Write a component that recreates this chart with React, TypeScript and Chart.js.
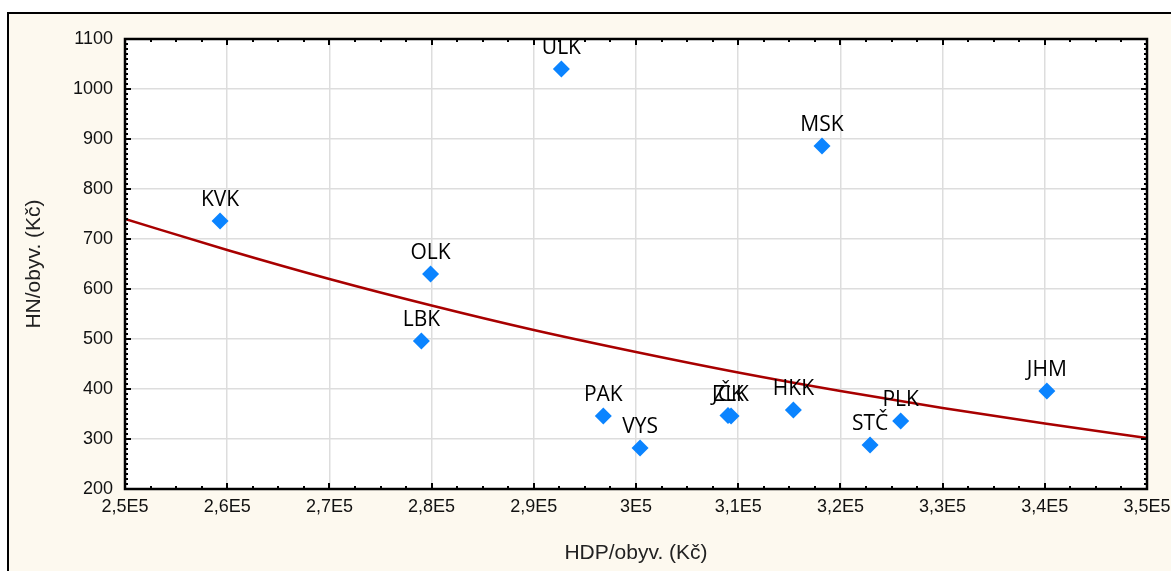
import React, { useEffect, useRef } from "react";
import { Chart, registerables } from "chart.js";

Chart.register(...registerables);

const regions = ["KVK", "ULK", "MSK", "OLK", "LBK", "PAK", "VYS", "JČK", "ZLK", "HKK", "STČ", "PLK", "JHM"];
const hdpPerCapita = [259300, 292700, 318200, 279900, 279000, 296800, 300400, 309000, 309300, 315400, 322900, 325900, 340200];
const hnPerCapita = [736, 1040, 886, 630, 496, 346, 282, 347, 346, 358, 288, 336, 396];

const fitX = [250000, 260000, 270000, 280000, 290000, 300000, 310000, 320000, 330000, 340000, 350000];
const fitY = [740, 678, 620, 567, 518, 474, 433, 396, 362, 331, 302];

const xTickLabels = ["2,5E5", "2,6E5", "2,7E5", "2,8E5", "2,9E5", "3E5", "3,1E5", "3,2E5", "3,3E5", "3,4E5", "3,5E5"];
const yTickLabels = ["200", "300", "400", "500", "600", "700", "800", "900", "1000", "1100"];

const X_MIN = 250000, X_MAX = 350000, X_STEP = 10000, X_MINOR = 2500;
const Y_MIN = 200, Y_MAX = 1100, Y_STEP = 100, Y_MINOR = 10;

const CREAM = "#fdf9ef";
const AXIS_FONT = "'Liberation Sans', Arial, sans-serif";

const backgroundPlugin = {
  id: "bgFrame",
  beforeDraw(chart: any) {
    const { ctx, width, height, chartArea } = chart;
    ctx.save();
    ctx.fillStyle = "#ffffff";
    ctx.fillRect(0, 0, width, height);
    ctx.fillStyle = CREAM;
    ctx.fillRect(8, 13, width - 8, height - 13);
    ctx.strokeStyle = "#000";
    ctx.lineWidth = 2;
    ctx.beginPath();
    ctx.moveTo(8, height);
    ctx.lineTo(8, 13);
    ctx.lineTo(width, 13);
    ctx.stroke();
    ctx.fillStyle = "#ffffff";
    ctx.fillRect(chartArea.left, chartArea.top, chartArea.right - chartArea.left, chartArea.bottom - chartArea.top);
    ctx.restore();
  },
  afterDraw(chart: any) {
    const { ctx, chartArea, scales } = chart;
    const xs = scales.x, ys = scales.y;
    const { left, right, top, bottom } = chartArea;
    ctx.save();
    ctx.strokeStyle = "#000";
    ctx.lineWidth = 2;
    ctx.beginPath();
    for (let v = X_MIN; v <= X_MAX + 1; v += X_MINOR) {
      const major = Math.abs((v - X_MIN) % X_STEP) < 1;
      const len = major ? 6 : 3;
      const px = Math.round(xs.getPixelForValue(v));
      ctx.moveTo(px, bottom);
      ctx.lineTo(px, bottom - len);
      ctx.moveTo(px, top);
      ctx.lineTo(px, top + len);
    }
    for (let v = Y_MIN; v <= Y_MAX + 0.01; v += Y_MINOR) {
      const major = Math.abs((v - Y_MIN) % Y_STEP) < 0.01;
      const len = major ? 6 : 3;
      const py = Math.round(ys.getPixelForValue(v));
      ctx.moveTo(left, py);
      ctx.lineTo(left + len, py);
      ctx.moveTo(right, py);
      ctx.lineTo(right - len, py);
    }
    ctx.stroke();
    ctx.lineWidth = 2.5;
    ctx.strokeRect(left, top, right - left, bottom - top);
    ctx.restore();
  },
};

const labelPlugin = {
  id: "pointLabels",
  afterDatasetsDraw(chart: any) {
    const { ctx } = chart;
    const meta = chart.getDatasetMeta(1);
    ctx.save();
    ctx.font = "21px 'Open Sans', 'Noto Sans', sans-serif";
    ctx.fillStyle = "#000";
    ctx.textAlign = "center";
    ctx.textBaseline = "alphabetic";
    meta.data.forEach((el: any, i: number) => {
      ctx.fillText(regions[i], el.x, el.y - 15);
    });
    ctx.restore();
  },
};

export default function App() {
  const ref = useRef<HTMLCanvasElement>(null);
  useEffect(() => {
    if (!ref.current) return;
    const chart = new Chart(ref.current, {
      type: "scatter",
      data: {
        datasets: [
          {
            label: "fit",
            data: fitX.map((x, i) => ({ x, y: fitY[i] })),
            showLine: true,
            borderColor: "#a80000",
            borderWidth: 2.5,
            pointRadius: 0,
            cubicInterpolationMode: "monotone",
            fill: false,
            order: 2,
          } as any,
          {
            label: "kraje",
            data: hdpPerCapita.map((x, i) => ({ x, y: hnPerCapita[i] })),
            pointStyle: "rectRot",
            pointRadius: 8.5,
            pointBackgroundColor: "#0b84ff",
            pointBorderColor: "#0b84ff",
            pointBorderWidth: 0,
            showLine: false,
            order: 1,
          } as any,
        ],
      },
      options: {
        animation: false,
        responsive: false,
        devicePixelRatio: 1,
        layout: { padding: { left: 0, top: 39, right: 24, bottom: 0 } },
        plugins: { legend: { display: false }, tooltip: { enabled: false } },
        scales: {
          x: {
            type: "linear",
            min: X_MIN,
            max: X_MAX,
            afterFit: (s: any) => {
              s.height = 82;
              s.paddingLeft = 0;
              s.paddingRight = 0;
            },
            afterBuildTicks: (s: any) => { s.ticks = fitX.map((v) => ({ value: v })); },
            ticks: {
              autoSkip: false,
              maxRotation: 0,
              padding: 7,
              color: "#111",
              font: { family: AXIS_FONT, size: 18 },
              callback: (_v: any, i: number) => xTickLabels[i],
            },
            grid: { color: "#dddddd", lineWidth: 1.5, drawTicks: false },
            border: { display: false },
            title: {
              display: true,
              text: "HDP/obyv. (Kč)",
              color: "#222",
              font: { family: AXIS_FONT, size: 21 },
              padding: { top: 0, bottom: 5 },
            },
          },
          y: {
            type: "linear",
            min: Y_MIN,
            max: Y_MAX,
            afterFit: (s: any) => {
              s.width = 125;
              s.paddingTop = 0;
              s.paddingBottom = 0;
            },
            afterBuildTicks: (s: any) => { s.ticks = yTickLabels.map((t) => ({ value: Number(t) })); },
            ticks: {
              autoSkip: false,
              padding: 12,
              color: "#111",
              font: { family: AXIS_FONT, size: 18 },
              callback: (_v: any, i: number) => yTickLabels[i],
            },
            grid: { color: "#dddddd", lineWidth: 1.5, drawTicks: false },
            border: { display: false },
            title: {
              display: true,
              text: "HN/obyv. (Kč)",
              color: "#222",
              font: { family: AXIS_FONT, size: 21 },
              padding: { top: 22, bottom: 0 },
            },
          },
        },
      },
      plugins: [backgroundPlugin, labelPlugin],
    } as any);
    return () => chart.destroy();
  }, []);
  return (
    <div style={{ position: "fixed", left: 0, top: 0, width: 1171, height: 571 }}>
      <canvas ref={ref} width={1171} height={571} style={{ display: "block", width: 1171, height: 571 }} />
    </div>
  );
}
